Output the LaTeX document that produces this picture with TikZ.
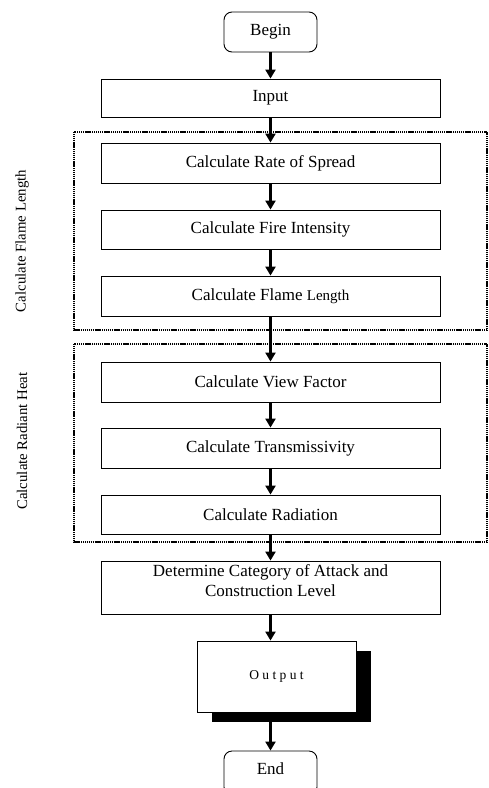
\documentclass[tikz,border=0pt]{standalone}
\usepackage{fontspec}
\setmainfont{Liberation Serif}
\usetikzlibrary{arrows.meta}
\begin{document}
\begin{tikzpicture}[x=1pt,y=-1pt,
  box/.style={draw,line width=0.9pt,minimum width=339pt,inner sep=0pt,align=center,font=\fontsize{17}{20}\selectfont},
  term/.style={draw,line width=0.9pt,rounded corners=8pt,minimum width=93pt,minimum height=40pt,inner sep=0pt,font=\fontsize{17}{20}\selectfont},
  flow/.style={line width=2.2pt,-{Triangle[length=9pt,width=10pt]}},
  group/.style={line width=1.6pt,dash pattern=on 1.2pt off 0.7pt},
  side/.style={rotate=90,font=\fontsize{14.8}{18}\selectfont}]
\useasboundingbox (0,0) rectangle (489,788);
% groups
\draw[group] (74,132) rectangle (487,330);
\draw[group] (74,344) rectangle (487,542);
\node[side] (lblA) at (22,241) {Calculate Flame Length};
\node[side] (lblB) at (22,441) {Calculate Radiant Heat};
% nodes
\node[term] (begin) at (270.5,32) {Begin};
\node[box,minimum height=38pt] (input) at (270.5,98) {Input};
\node[box,minimum height=40pt] (ros) at (270.5,163) {Calculate Rate of Spread};
\node[box,minimum height=39pt] (fi) at (270.5,229.5) {Calculate Fire Intensity};
\node[box,minimum height=40pt] (fl) at (270.5,296) {Calculate Flame {\fontsize{15}{18}\selectfont Length}};
\node[box,minimum height=40pt] (vf) at (270.5,382) {Calculate View Factor};
\node[box,minimum height=40pt] (tr) at (270.5,448) {Calculate Transmissivity};
\node[box,minimum height=39pt] (rad) at (270.5,514.5) {Calculate Radiation};
\node[box,minimum height=53pt,text depth=14pt] (det) at (270.5,587.5) {Determine Category of Attack and\\Construction Level};
\fill (212,651) rectangle (371,722);
\node[draw,fill=white,line width=0.9pt,minimum width=159pt,minimum height=71pt,inner sep=0pt,font=\fontsize{13.5}{16}\selectfont\addfontfeature{LetterSpace=25}] (out) at (276.5,676.5) {Output};
\node[term,minimum height=44pt,text depth=9pt] (end) at (270.5,773) {End};
% arrows
\draw[flow] (begin) -- (input);
\draw[flow] (input) -- (ros);
\draw[flow] (ros) -- (fi);
\draw[flow] (fi) -- (fl);
\draw[flow] (fl) -- (vf);
\draw[flow] (vf) -- (tr);
\draw[flow] (tr) -- (rad);
\draw[flow] (rad) -- (det);
\draw[flow] (det.south) -- (det.south|-out.north);
\draw[flow] (out.south-|end.north) -- (end.north);
\end{tikzpicture}
\end{document}
